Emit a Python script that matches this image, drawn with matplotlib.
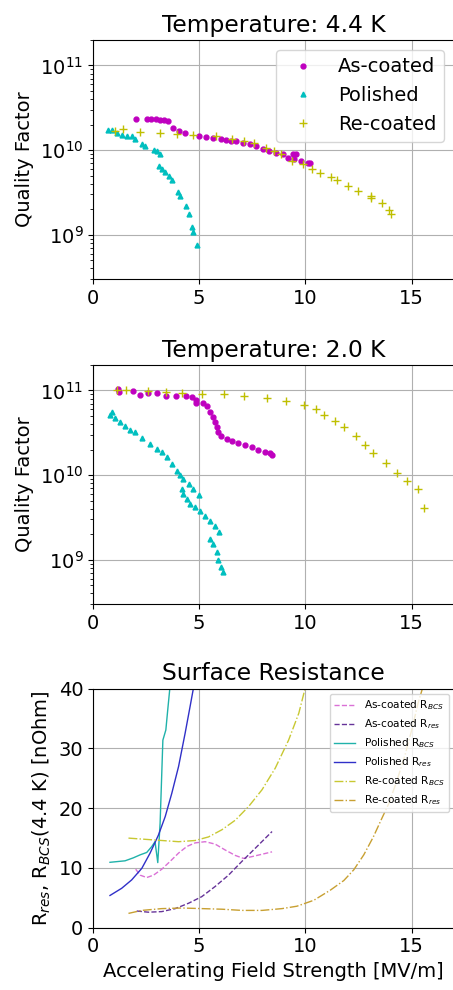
import numpy as np
import matplotlib
matplotlib.use("Agg")
from matplotlib import pyplot as plt

plt.rcParams['font.size'] = 14

# ---- 4.4 K quality factor data (E [MV/m], Q0)
e44_asc = [2.03, 2.55, 2.75, 2.95, 3.15, 3.35, 3.55, 3.79, 4.07, 4.33, 5.0, 5.33, 5.64, 6.04, 6.27,
           6.5, 6.75, 7.06, 7.37, 7.68, 7.99, 8.31, 8.62, 8.93, 9.17, 9.40, 9.56, 9.48, 9.79, 10.1, 10.2]
q44_asc = [2.3e10, 2.3e10, 2.32e10, 2.3e10, 2.28e10, 2.25e10, 2.2e10, 1.8e10, 1.7e10, 1.6e10, 1.46e10,
           1.44e10, 1.4e10, 1.34e10, 1.31e10, 1.29e10, 1.28e10, 1.22e10, 1.17e10, 1.11e10, 1.04e10,
           9.8e9, 9.3e9, 8.9e9, 8.1e9, 8.9e9, 8.9e9, 7.8e9, 7.4e9, 7.1e9, 7.0e9]
e44_pol = [0.72, 0.88, 1.12, 1.35, 1.59, 1.82, 1.98, 2.30, 2.45, 2.85, 3.0, 3.17, 3.09, 3.25, 3.40,
           3.56, 3.71, 3.98, 4.1, 4.37, 4.5, 4.65, 4.73, 4.89]
q44_pol = [1.74e10, 1.72e10, 1.58e10, 1.51e10, 1.46e10, 1.45e10, 1.35e10, 1.17e10, 1.11e10, 1.0e10,
           9.8e9, 8.9e9, 6.5e9, 6.0e9, 5.5e9, 5.0e9, 4.4e9, 3.2e9, 2.9e9, 2.2e9, 1.74e9, 1.23e9,
           1.07e9, 7.6e8]
e44_rec = [1.04, 1.43, 2.19, 3.17, 3.96, 4.71, 5.77, 6.56, 7.11, 7.58, 8.13, 8.52, 8.84, 9.39, 9.87,
           10.3, 10.7, 11.2, 11.5, 12.0, 12.5, 13.1, 13.1, 13.6, 13.95, 14.05]
q44_rec = [1.66e10, 1.78e10, 1.62e10, 1.58e10, 1.55e10, 1.51e10, 1.46e10, 1.35e10, 1.29e10, 1.2e10,
           1.05e10, 9.8e9, 8.9e9, 7.4e9, 6.8e9, 6.0e9, 5.4e9, 4.8e9, 4.4e9, 3.8e9, 3.3e9, 2.9e9,
           2.75e9, 2.4e9, 1.95e9, 1.78e9]

# ---- 2.0 K quality factor data
e20_asc = [1.19, 1.24, 1.9, 2.2, 2.6, 2.99, 3.46, 3.93, 4.4, 4.64, 4.87, 4.87, 5.2, 5.36, 5.5, 5.66,
           5.74, 5.82, 5.9, 6.05, 6.29, 6.53, 6.84, 7.15, 7.47, 7.78, 8.1, 8.33, 8.45]
q20_asc = [1.05e11, 9.5e10, 9.8e10, 8.9e10, 9.3e10, 9.3e10, 8.7e10, 8.7e10, 8.5e10, 8.3e10, 7.8e10,
           7.2e10, 7.2e10, 6.5e10, 5.6e10, 4.9e10, 4.3e10, 3.7e10, 3.2e10, 2.9e10, 2.7e10, 2.5e10,
           2.4e10, 2.24e10, 2.14e10, 2.0e10, 1.9e10, 1.82e10, 1.74e10]
e20_pol = [0.8, 0.88, 1.03, 1.27, 1.5, 1.74, 1.98, 2.29, 2.69, 3.0, 3.24, 3.47, 3.71, 3.95, 4.1, 4.26,
           4.5, 4.73, 4.97, 4.18, 4.26, 4.42, 4.57, 4.81, 5.04, 5.27, 5.5, 5.74, 5.94, 5.5, 5.66, 5.82,
           5.9, 6.01, 6.1]
q20_pol = [5.1e10, 5.6e10, 4.7e10, 4.3e10, 3.8e10, 3.4e10, 3.2e10, 2.75e10, 2.34e10, 2.04e10, 1.86e10,
           1.62e10, 1.35e10, 1.12e10, 1.0e10, 9.1e9, 7.9e9, 6.9e9, 5.9e9, 6.9e9, 6.0e9, 5.2e9, 4.6e9,
           4.2e9, 3.8e9, 3.3e9, 2.9e9, 2.5e9, 2.14e9, 1.78e9, 1.55e9, 1.23e9, 9.8e8, 8.3e8, 7.1e8]
e20_rec = [1.11, 1.57, 2.6, 3.46, 4.2, 5.14, 6.16, 7.1, 8.2, 9.07, 9.93, 10.48, 10.9, 11.4, 11.8,
           12.4, 12.8, 13.2, 13.8, 14.3, 14.8, 15.3, 15.6]
q20_rec = [1.0e11, 1.0e11, 9.8e10, 9.5e10, 9.3e10, 9.1e10, 9.1e10, 8.7e10, 8.1e10, 7.6e10, 6.8e10,
           6.0e10, 5.2e10, 4.4e10, 3.7e10, 2.9e10, 2.3e10, 1.82e10, 1.38e10, 1.07e10, 8.5e9, 6.8e9,
           4.1e9]

# ---- surface resistance curves (E [MV/m], R [nOhm])
e_asc_bcs = [2.01, 2.22, 2.53, 2.85, 3.24, 3.63, 4.03, 4.42, 4.81, 5.28, 5.75, 6.23, 6.7, 7.09,
             7.48, 7.96, 8.43]
r_asc_bcs = [9.8, 8.8, 8.4, 8.8, 9.8, 11.1, 12.5, 13.6, 14.2, 14.4, 14.0, 13.0, 12.1, 11.6,
             11.9, 12.3, 12.7]
e_asc_res = [2.06, 2.61, 3.24, 3.87, 4.5, 5.12, 5.75, 6.38, 7.01, 7.64, 8.43]
r_asc_res = [2.8, 2.6, 2.7, 3.2, 4.1, 5.2, 6.9, 8.8, 11.1, 13.3, 16.1]
e_pol_bcs = [0.8, 1.51, 1.9, 2.22, 2.53, 2.77, 2.92, 3.05, 3.16, 3.29, 3.43, 3.52, 3.63]
r_pol_bcs = [10.95, 11.2, 11.7, 12.2, 12.6, 13.6, 14.4, 10.9, 17.5, 31.4, 33.1, 36.5, 40.5]
e_pol_res = [0.8, 1.35, 1.82, 2.30, 2.69, 3.08, 3.4, 3.71, 4.03, 4.34, 4.57, 4.75]
r_pol_res = [5.4, 6.6, 8.0, 9.95, 12.5, 15.5, 18.6, 22.5, 27.0, 32.6, 37.0, 40.5]
e_rec_bcs = [1.67, 2.45, 3.24, 4.03, 4.81, 5.44, 6.07, 6.7, 7.33, 7.96, 8.58, 9.21, 9.69, 10.02]
r_rec_bcs = [15.0, 14.8, 14.6, 14.4, 14.6, 15.2, 16.4, 18.0, 20.3, 23.1, 26.7, 31.4, 35.9, 40.5]
e_rec_res = [1.67, 2.3, 3.24, 4.18, 5.12, 6.07, 7.01, 7.96, 8.9, 9.6, 10.4, 11.18, 11.81, 12.28,
             12.75, 13.2, 13.6, 13.93, 14.3, 14.7, 15.0, 15.3, 15.55]
r_rec_res = [2.4, 2.9, 3.2, 3.3, 3.2, 3.1, 2.9, 2.9, 3.2, 3.6, 4.6, 6.3, 7.9, 9.7,
             12.2, 15.2, 18.3, 20.8, 24.5, 29.0, 33.0, 37.5, 40.5]

fig = plt.figure(figsize=(4.53, 9.9), dpi=100)
left, width, h = 0.2053, 0.797, 0.2414


def qplot(ax, data, title):
    (ea, qa), (ep, qp), (er, qr) = data
    ax.plot(ea, qa, 'o', color='m', ms=3.5, ls='none', label='As-coated')
    ax.plot(ep, qp, '^', color='c', ms=3.5, ls='none', label='Polished')
    ax.plot(er, qr, '+', color='y', ms=6, mew=1, ls='none', label='Re-coated')
    ax.set_yscale('log')
    ax.set_xlim(0, 17)
    ax.set_ylim(3e8, 2e11)
    ax.set_xticks([0, 5, 10, 15])
    ax.set_ylabel('Quality Factor')
    ax.set_title(title, fontsize=16.8)
    ax.grid(True)


ax1 = fig.add_axes([left, 0.7182, width, h])
qplot(ax1, [(e44_asc, q44_asc), (e44_pol, q44_pol), (e44_rec, q44_rec)], 'Temperature: 4.4 K')
ax1.legend(loc='upper right')

ax2 = fig.add_axes([left, 0.3899, width, h])
qplot(ax2, [(e20_asc, q20_asc), (e20_pol, q20_pol), (e20_rec, q20_rec)], 'Temperature: 2.0 K')

ax3 = fig.add_axes([left, 0.0629, width, h])
ax3.plot(e_asc_bcs, r_asc_bcs, '--', color='orchid', lw=1, label='As-coated R$_{BCS}$')
ax3.plot(e_asc_res, r_asc_res, '--', color='rebeccapurple', lw=1, label='As-coated R$_{res}$')
ax3.plot(e_pol_bcs, r_pol_bcs, '-', color='lightseagreen', lw=1, label='Polished R$_{BCS}$')
ax3.plot(e_pol_res, r_pol_res, '-', color='#3030c8', lw=1, label='Polished R$_{res}$')
ax3.plot(e_rec_bcs, r_rec_bcs, '-.', color='#c8c832', lw=1, label='Re-coated R$_{BCS}$')
ax3.plot(e_rec_res, r_rec_res, '-.', color='#c8a032', lw=1, label='Re-coated R$_{res}$')
ax3.set_xlim(0, 17)
ax3.set_ylim(0, 40)
ax3.set_xticks([0, 5, 10, 15])
ax3.set_yticks([0, 10, 20, 30, 40])
ax3.grid(True)
ax3.set_title('Surface Resistance', fontsize=16.8)
ax3.set_xlabel('Accelerating Field Strength [MV/m]')
ax3.set_ylabel('R$_{res}$, R$_{BCS}$(4.4 K) [nOhm]')
ax3.legend(loc='upper right', fontsize=7.6)

fig.savefig('out.png', dpi=100)
